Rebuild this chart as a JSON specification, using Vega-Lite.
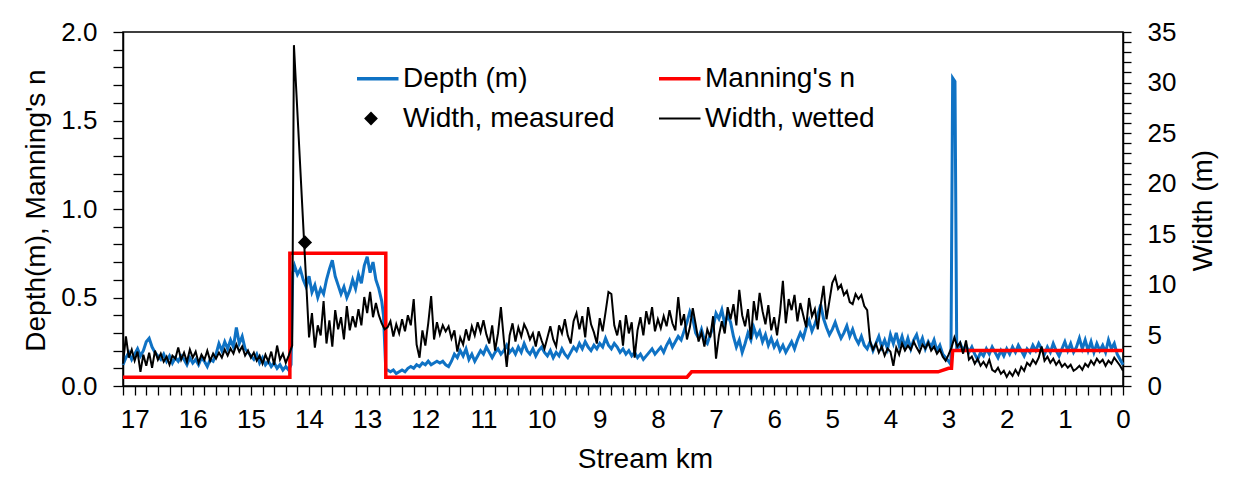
{
  "$schema": "https://vega.github.io/schema/vega-lite/v6.json",
  "width": 1000,
  "height": 354,
  "autosize": {"type": "none"},
  "padding": {"left": 123, "top": 32, "right": 130, "bottom": 109},
  "background": "white",
  "datasets": {
    "depth": [
      {"km":17.2,"m":0.12},{"km":17.15,"m":0.16},{"km":17.1,"m":0.19},{"km":17.05,"m":0.15},{"km":17.0,"m":0.18},
      {"km":16.95,"m":0.21},{"km":16.9,"m":0.17},{"km":16.85,"m":0.2},{"km":16.8,"m":0.25},{"km":16.75,"m":0.27},
      {"km":16.7,"m":0.22},{"km":16.65,"m":0.19},{"km":16.6,"m":0.17},{"km":16.55,"m":0.15},{"km":16.5,"m":0.18},
      {"km":16.45,"m":0.14},{"km":16.4,"m":0.17},{"km":16.35,"m":0.13},{"km":16.3,"m":0.16},{"km":16.25,"m":0.14},
      {"km":16.2,"m":0.17},{"km":16.15,"m":0.15},{"km":16.1,"m":0.12},{"km":16.05,"m":0.16},{"km":16.0,"m":0.13},
      {"km":15.95,"m":0.15},{"km":15.9,"m":0.12},{"km":15.85,"m":0.16},{"km":15.8,"m":0.14},{"km":15.75,"m":0.11},
      {"km":15.7,"m":0.15},{"km":15.65,"m":0.14},{"km":15.6,"m":0.18},{"km":15.55,"m":0.24},{"km":15.5,"m":0.2},
      {"km":15.45,"m":0.25},{"km":15.4,"m":0.21},{"km":15.35,"m":0.26},{"km":15.3,"m":0.22},{"km":15.25,"m":0.33},
      {"km":15.2,"m":0.24},{"km":15.15,"m":0.28},{"km":15.1,"m":0.21},{"km":15.05,"m":0.19},{"km":15.0,"m":0.17},
      {"km":14.95,"m":0.15},{"km":14.9,"m":0.18},{"km":14.85,"m":0.13},{"km":14.8,"m":0.16},{"km":14.75,"m":0.12},
      {"km":14.7,"m":0.14},{"km":14.65,"m":0.11},{"km":14.6,"m":0.13},{"km":14.55,"m":0.1},{"km":14.5,"m":0.12},
      {"km":14.45,"m":0.09},{"km":14.4,"m":0.11},{"km":14.35,"m":0.09},{"km":14.31,"m":0.12},{"km":14.28,"m":0.64},
      {"km":14.25,"m":0.68},{"km":14.2,"m":0.63},{"km":14.15,"m":0.66},{"km":14.1,"m":0.6},{"km":14.05,"m":0.56},
      {"km":14.0,"m":0.62},{"km":13.95,"m":0.53},{"km":13.9,"m":0.57},{"km":13.85,"m":0.5},{"km":13.8,"m":0.55},
      {"km":13.75,"m":0.52},{"km":13.7,"m":0.6},{"km":13.65,"m":0.66},{"km":13.6,"m":0.71},{"km":13.55,"m":0.62},
      {"km":13.5,"m":0.57},{"km":13.45,"m":0.52},{"km":13.4,"m":0.56},{"km":13.35,"m":0.5},{"km":13.3,"m":0.54},
      {"km":13.25,"m":0.6},{"km":13.2,"m":0.55},{"km":13.15,"m":0.63},{"km":13.1,"m":0.58},{"km":13.05,"m":0.68},
      {"km":13.0,"m":0.73},{"km":12.95,"m":0.64},{"km":12.9,"m":0.7},{"km":12.85,"m":0.6},{"km":12.8,"m":0.55},
      {"km":12.75,"m":0.48},{"km":12.72,"m":0.4},{"km":12.68,"m":0.09},{"km":12.65,"m":0.09},{"km":12.6,"m":0.08},
      {"km":12.55,"m":0.09},{"km":12.5,"m":0.07},{"km":12.45,"m":0.08},{"km":12.4,"m":0.09},{"km":12.35,"m":0.08},
      {"km":12.3,"m":0.1},{"km":12.25,"m":0.11},{"km":12.2,"m":0.1},{"km":12.15,"m":0.12},{"km":12.1,"m":0.11},
      {"km":12.05,"m":0.13},{"km":12.0,"m":0.12},{"km":11.95,"m":0.14},{"km":11.9,"m":0.12},{"km":11.85,"m":0.13},
      {"km":11.8,"m":0.14},{"km":11.75,"m":0.13},{"km":11.7,"m":0.14},{"km":11.65,"m":0.12},{"km":11.6,"m":0.11},
      {"km":11.55,"m":0.14},{"km":11.5,"m":0.18},{"km":11.45,"m":0.16},{"km":11.4,"m":0.2},{"km":11.35,"m":0.17},
      {"km":11.3,"m":0.21},{"km":11.25,"m":0.15},{"km":11.2,"m":0.18},{"km":11.15,"m":0.14},{"km":11.1,"m":0.17},
      {"km":11.05,"m":0.2},{"km":11.0,"m":0.18},{"km":10.95,"m":0.22},{"km":10.9,"m":0.19},{"km":10.85,"m":0.16},
      {"km":10.8,"m":0.19},{"km":10.75,"m":0.21},{"km":10.7,"m":0.18},{"km":10.65,"m":0.2},{"km":10.6,"m":0.23},
      {"km":10.55,"m":0.19},{"km":10.5,"m":0.21},{"km":10.45,"m":0.18},{"km":10.4,"m":0.22},{"km":10.35,"m":0.19},
      {"km":10.3,"m":0.24},{"km":10.25,"m":0.2},{"km":10.2,"m":0.18},{"km":10.15,"m":0.21},{"km":10.1,"m":0.17},
      {"km":10.05,"m":0.2},{"km":10.0,"m":0.22},{"km":9.95,"m":0.19},{"km":9.9,"m":0.17},{"km":9.85,"m":0.2},
      {"km":9.8,"m":0.16},{"km":9.75,"m":0.19},{"km":9.7,"m":0.17},{"km":9.65,"m":0.21},{"km":9.6,"m":0.18},
      {"km":9.55,"m":0.16},{"km":9.5,"m":0.19},{"km":9.45,"m":0.22},{"km":9.4,"m":0.2},{"km":9.35,"m":0.24},
      {"km":9.3,"m":0.21},{"km":9.25,"m":0.25},{"km":9.2,"m":0.22},{"km":9.15,"m":0.2},{"km":9.1,"m":0.23},
      {"km":9.05,"m":0.21},{"km":9.0,"m":0.24},{"km":8.95,"m":0.22},{"km":8.9,"m":0.27},{"km":8.85,"m":0.23},
      {"km":8.8,"m":0.21},{"km":8.75,"m":0.24},{"km":8.7,"m":0.22},{"km":8.65,"m":0.19},{"km":8.6,"m":0.21},
      {"km":8.55,"m":0.18},{"km":8.5,"m":0.2},{"km":8.45,"m":0.17},{"km":8.4,"m":0.19},{"km":8.35,"m":0.16},
      {"km":8.3,"m":0.18},{"km":8.25,"m":0.15},{"km":8.2,"m":0.17},{"km":8.15,"m":0.19},{"km":8.1,"m":0.21},
      {"km":8.05,"m":0.18},{"km":8.0,"m":0.2},{"km":7.95,"m":0.22},{"km":7.9,"m":0.19},{"km":7.85,"m":0.23},
      {"km":7.8,"m":0.26},{"km":7.75,"m":0.22},{"km":7.7,"m":0.25},{"km":7.65,"m":0.28},{"km":7.6,"m":0.26},
      {"km":7.55,"m":0.31},{"km":7.5,"m":0.36},{"km":7.45,"m":0.42},{"km":7.4,"m":0.38},{"km":7.35,"m":0.3},
      {"km":7.3,"m":0.27},{"km":7.25,"m":0.32},{"km":7.2,"m":0.26},{"km":7.15,"m":0.24},{"km":7.1,"m":0.29},
      {"km":7.05,"m":0.33},{"km":7.0,"m":0.41},{"km":6.95,"m":0.38},{"km":6.9,"m":0.43},{"km":6.85,"m":0.35},
      {"km":6.8,"m":0.4},{"km":6.75,"m":0.36},{"km":6.7,"m":0.28},{"km":6.65,"m":0.22},{"km":6.6,"m":0.26},
      {"km":6.55,"m":0.19},{"km":6.5,"m":0.24},{"km":6.45,"m":0.3},{"km":6.4,"m":0.26},{"km":6.35,"m":0.33},
      {"km":6.3,"m":0.28},{"km":6.25,"m":0.31},{"km":6.2,"m":0.25},{"km":6.15,"m":0.29},{"km":6.1,"m":0.23},
      {"km":6.05,"m":0.27},{"km":6.0,"m":0.22},{"km":5.95,"m":0.25},{"km":5.9,"m":0.2},{"km":5.85,"m":0.23},
      {"km":5.8,"m":0.19},{"km":5.75,"m":0.22},{"km":5.7,"m":0.25},{"km":5.65,"m":0.21},{"km":5.6,"m":0.26},
      {"km":5.55,"m":0.3},{"km":5.5,"m":0.27},{"km":5.45,"m":0.33},{"km":5.4,"m":0.37},{"km":5.35,"m":0.31},
      {"km":5.3,"m":0.35},{"km":5.25,"m":0.4},{"km":5.2,"m":0.46},{"km":5.15,"m":0.38},{"km":5.1,"m":0.33},
      {"km":5.05,"m":0.29},{"km":5.0,"m":0.32},{"km":4.95,"m":0.36},{"km":4.9,"m":0.31},{"km":4.85,"m":0.27},
      {"km":4.8,"m":0.3},{"km":4.75,"m":0.34},{"km":4.7,"m":0.28},{"km":4.65,"m":0.32},{"km":4.6,"m":0.27},
      {"km":4.55,"m":0.24},{"km":4.5,"m":0.28},{"km":4.45,"m":0.23},{"km":4.4,"m":0.21},{"km":4.35,"m":0.25},
      {"km":4.3,"m":0.2},{"km":4.25,"m":0.24},{"km":4.2,"m":0.28},{"km":4.15,"m":0.22},{"km":4.1,"m":0.26},
      {"km":4.05,"m":0.21},{"km":4.0,"m":0.29},{"km":3.95,"m":0.24},{"km":3.9,"m":0.3},{"km":3.85,"m":0.23},
      {"km":3.8,"m":0.28},{"km":3.75,"m":0.22},{"km":3.7,"m":0.27},{"km":3.65,"m":0.21},{"km":3.6,"m":0.26},
      {"km":3.55,"m":0.29},{"km":3.5,"m":0.23},{"km":3.45,"m":0.27},{"km":3.4,"m":0.21},{"km":3.35,"m":0.25},
      {"km":3.3,"m":0.22},{"km":3.25,"m":0.26},{"km":3.2,"m":0.2},{"km":3.15,"m":0.23},{"km":3.1,"m":0.18},
      {"km":3.05,"m":0.16},{"km":3.0,"m":0.14},{"km":2.96,"m":0.12},{"km":2.93,"m":1.74},{"km":2.89,"m":1.72},
      {"km":2.86,"m":0.2},{"km":2.8,"m":0.24},{"km":2.75,"m":0.2},{"km":2.7,"m":0.23},{"km":2.65,"m":0.19},
      {"km":2.6,"m":0.22},{"km":2.55,"m":0.18},{"km":2.5,"m":0.15},{"km":2.45,"m":0.19},{"km":2.4,"m":0.17},
      {"km":2.35,"m":0.21},{"km":2.3,"m":0.18},{"km":2.25,"m":0.22},{"km":2.2,"m":0.19},{"km":2.15,"m":0.16},
      {"km":2.1,"m":0.2},{"km":2.05,"m":0.17},{"km":2.0,"m":0.21},{"km":1.95,"m":0.18},{"km":1.9,"m":0.22},
      {"km":1.85,"m":0.19},{"km":1.8,"m":0.23},{"km":1.75,"m":0.2},{"km":1.7,"m":0.17},{"km":1.65,"m":0.21},
      {"km":1.6,"m":0.19},{"km":1.55,"m":0.23},{"km":1.5,"m":0.2},{"km":1.45,"m":0.24},{"km":1.4,"m":0.21},
      {"km":1.35,"m":0.18},{"km":1.3,"m":0.22},{"km":1.25,"m":0.19},{"km":1.2,"m":0.24},{"km":1.15,"m":0.2},
      {"km":1.1,"m":0.17},{"km":1.05,"m":0.21},{"km":1.0,"m":0.25},{"km":0.95,"m":0.2},{"km":0.9,"m":0.24},
      {"km":0.85,"m":0.19},{"km":0.8,"m":0.22},{"km":0.75,"m":0.27},{"km":0.7,"m":0.21},{"km":0.65,"m":0.26},
      {"km":0.6,"m":0.2},{"km":0.55,"m":0.25},{"km":0.5,"m":0.19},{"km":0.45,"m":0.24},{"km":0.4,"m":0.2},
      {"km":0.35,"m":0.23},{"km":0.3,"m":0.19},{"km":0.25,"m":0.26},{"km":0.2,"m":0.21},{"km":0.15,"m":0.24},
      {"km":0.1,"m":0.18},{"km":0.05,"m":0.15},{"km":0.0,"m":0.12}
    ],
    "width": [
      {"km":17.2,"w":2.2},{"km":17.15,"w":4.9},{"km":17.1,"w":2.8},{"km":17.05,"w":3.6},{"km":17.0,"w":2.5},
      {"km":16.95,"w":3.4},{"km":16.9,"w":1.4},{"km":16.85,"w":3.1},{"km":16.8,"w":2.0},{"km":16.75,"w":3.3},
      {"km":16.7,"w":1.8},{"km":16.65,"w":3.5},{"km":16.6,"w":2.6},{"km":16.55,"w":3.2},{"km":16.5,"w":2.4},
      {"km":16.45,"w":2.9},{"km":16.4,"w":2.1},{"km":16.35,"w":3.0},{"km":16.3,"w":2.7},{"km":16.25,"w":3.8},
      {"km":16.2,"w":2.6},{"km":16.15,"w":3.3},{"km":16.1,"w":2.4},{"km":16.05,"w":3.6},{"km":16.0,"w":2.8},
      {"km":15.95,"w":3.4},{"km":15.9,"w":2.3},{"km":15.85,"w":3.1},{"km":15.8,"w":2.6},{"km":15.75,"w":3.5},
      {"km":15.7,"w":2.5},{"km":15.65,"w":3.2},{"km":15.6,"w":2.7},{"km":15.55,"w":3.3},{"km":15.5,"w":2.8},
      {"km":15.45,"w":3.6},{"km":15.4,"w":3.0},{"km":15.35,"w":3.7},{"km":15.3,"w":3.2},{"km":15.25,"w":4.1},
      {"km":15.2,"w":3.4},{"km":15.15,"w":3.9},{"km":15.1,"w":3.0},{"km":15.05,"w":3.5},{"km":15.0,"w":2.8},
      {"km":14.95,"w":3.3},{"km":14.9,"w":2.5},{"km":14.85,"w":3.0},{"km":14.8,"w":2.2},{"km":14.75,"w":3.1},
      {"km":14.7,"w":2.4},{"km":14.65,"w":3.4},{"km":14.6,"w":2.1},{"km":14.55,"w":4.0},{"km":14.5,"w":2.6},
      {"km":14.45,"w":3.2},{"km":14.4,"w":2.3},{"km":14.35,"w":3.0},{"km":14.29,"w":4.0},{"km":14.26,"w":33.7},
      {"km":14.0,"w":4.8},{"km":13.95,"w":7.2},{"km":13.9,"w":3.8},{"km":13.85,"w":6.0},{"km":13.8,"w":5.0},
      {"km":13.75,"w":8.4},{"km":13.7,"w":4.2},{"km":13.65,"w":6.5},{"km":13.6,"w":3.9},{"km":13.55,"w":7.5},
      {"km":13.5,"w":5.6},{"km":13.45,"w":6.8},{"km":13.4,"w":4.6},{"km":13.35,"w":7.9},{"km":13.3,"w":5.5},
      {"km":13.25,"w":6.9},{"km":13.2,"w":5.8},{"km":13.15,"w":7.6},{"km":13.1,"w":6.0},{"km":13.05,"w":8.8},
      {"km":13.0,"w":7.2},{"km":12.95,"w":9.3},{"km":12.9,"w":6.8},{"km":12.85,"w":8.2},{"km":12.8,"w":7.0},
      {"km":12.75,"w":6.2},{"km":12.7,"w":5.6},{"km":12.65,"w":5.8},{"km":12.6,"w":6.4},{"km":12.55,"w":4.9},
      {"km":12.5,"w":6.1},{"km":12.45,"w":5.2},{"km":12.4,"w":6.6},{"km":12.35,"w":5.4},{"km":12.3,"w":7.0},
      {"km":12.25,"w":6.0},{"km":12.2,"w":8.6},{"km":12.15,"w":4.1},{"km":12.1,"w":2.8},{"km":12.05,"w":5.5},
      {"km":12.0,"w":4.0},{"km":11.95,"w":6.2},{"km":11.9,"w":8.9},{"km":11.85,"w":4.6},{"km":11.8,"w":6.3},
      {"km":11.75,"w":5.1},{"km":11.7,"w":6.0},{"km":11.65,"w":5.4},{"km":11.6,"w":5.9},{"km":11.55,"w":4.7},
      {"km":11.5,"w":5.5},{"km":11.45,"w":3.4},{"km":11.4,"w":4.8},{"km":11.35,"w":4.1},{"km":11.3,"w":5.6},
      {"km":11.25,"w":4.5},{"km":11.2,"w":5.9},{"km":11.15,"w":5.0},{"km":11.1,"w":6.3},{"km":11.05,"w":5.3},
      {"km":11.0,"w":6.5},{"km":10.95,"w":5.1},{"km":10.9,"w":4.2},{"km":10.85,"w":6.0},{"km":10.8,"w":3.5},
      {"km":10.75,"w":5.2},{"km":10.7,"w":7.8},{"km":10.65,"w":4.6},{"km":10.6,"w":1.9},{"km":10.55,"w":5.0},
      {"km":10.5,"w":6.2},{"km":10.45,"w":4.4},{"km":10.4,"w":5.8},{"km":10.35,"w":4.9},{"km":10.3,"w":6.1},
      {"km":10.25,"w":5.5},{"km":10.2,"w":4.6},{"km":10.15,"w":5.2},{"km":10.1,"w":3.9},{"km":10.05,"w":5.4},
      {"km":10.0,"w":4.5},{"km":9.95,"w":3.7},{"km":9.9,"w":4.8},{"km":9.85,"w":5.9},{"km":9.8,"w":4.6},
      {"km":9.75,"w":3.9},{"km":9.7,"w":6.0},{"km":9.65,"w":5.2},{"km":9.6,"w":6.6},{"km":9.55,"w":5.0},
      {"km":9.5,"w":4.2},{"km":9.45,"w":6.4},{"km":9.4,"w":7.2},{"km":9.35,"w":5.6},{"km":9.3,"w":6.9},
      {"km":9.25,"w":4.8},{"km":9.2,"w":7.8},{"km":9.15,"w":6.1},{"km":9.1,"w":5.3},{"km":9.05,"w":4.2},
      {"km":9.0,"w":6.7},{"km":8.95,"w":5.4},{"km":8.9,"w":7.3},{"km":8.85,"w":9.3},{"km":8.8,"w":9.1},
      {"km":8.75,"w":6.0},{"km":8.7,"w":5.0},{"km":8.65,"w":6.5},{"km":8.6,"w":4.0},{"km":8.55,"w":7.0},
      {"km":8.5,"w":5.2},{"km":8.45,"w":6.3},{"km":8.4,"w":2.8},{"km":8.35,"w":5.5},{"km":8.3,"w":6.8},
      {"km":8.25,"w":5.0},{"km":8.2,"w":7.4},{"km":8.15,"w":6.1},{"km":8.1,"w":7.8},{"km":8.05,"w":5.4},
      {"km":8.0,"w":6.6},{"km":7.95,"w":5.7},{"km":7.9,"w":6.9},{"km":7.85,"w":5.9},{"km":7.8,"w":7.5},
      {"km":7.75,"w":6.2},{"km":7.7,"w":5.5},{"km":7.65,"w":8.8},{"km":7.6,"w":6.0},{"km":7.55,"w":7.1},
      {"km":7.5,"w":4.6},{"km":7.45,"w":5.8},{"km":7.4,"w":7.7},{"km":7.35,"w":6.1},{"km":7.3,"w":4.4},
      {"km":7.25,"w":5.3},{"km":7.2,"w":3.9},{"km":7.15,"w":5.6},{"km":7.1,"w":4.8},{"km":7.05,"w":6.9},
      {"km":7.0,"w":2.7},{"km":6.95,"w":5.0},{"km":6.9,"w":6.4},{"km":6.85,"w":5.2},{"km":6.8,"w":7.8},
      {"km":6.75,"w":6.6},{"km":6.7,"w":8.1},{"km":6.65,"w":6.0},{"km":6.6,"w":9.5},{"km":6.55,"w":7.0},
      {"km":6.5,"w":5.9},{"km":6.45,"w":7.6},{"km":6.4,"w":4.6},{"km":6.35,"w":8.4},{"km":6.3,"w":6.5},
      {"km":6.25,"w":9.2},{"km":6.2,"w":7.4},{"km":6.15,"w":6.1},{"km":6.1,"w":8.0},{"km":6.05,"w":5.5},
      {"km":6.0,"w":6.8},{"km":5.95,"w":5.0},{"km":5.9,"w":7.2},{"km":5.85,"w":10.4},{"km":5.8,"w":6.2},
      {"km":5.75,"w":8.6},{"km":5.7,"w":7.5},{"km":5.65,"w":9.0},{"km":5.6,"w":6.4},{"km":5.55,"w":8.2},
      {"km":5.5,"w":7.0},{"km":5.45,"w":5.8},{"km":5.4,"w":8.7},{"km":5.35,"w":6.9},{"km":5.3,"w":7.6},
      {"km":5.25,"w":5.6},{"km":5.2,"w":8.0},{"km":5.15,"w":9.9},{"km":5.1,"w":6.6},{"km":5.05,"w":8.4},
      {"km":5.0,"w":10.2},{"km":4.95,"w":10.8},{"km":4.9,"w":9.6},{"km":4.85,"w":10.0},{"km":4.8,"w":9.0},
      {"km":4.75,"w":9.4},{"km":4.7,"w":8.3},{"km":4.65,"w":8.1},{"km":4.6,"w":9.1},{"km":4.55,"w":8.6},
      {"km":4.5,"w":9.0},{"km":4.45,"w":7.9},{"km":4.4,"w":7.5},{"km":4.35,"w":4.4},{"km":4.3,"w":3.6},
      {"km":4.25,"w":4.2},{"km":4.2,"w":3.3},{"km":4.15,"w":3.9},{"km":4.1,"w":3.0},{"km":4.05,"w":3.7},
      {"km":4.0,"w":3.4},{"km":3.95,"w":2.0},{"km":3.9,"w":3.8},{"km":3.85,"w":3.1},{"km":3.8,"w":4.2},
      {"km":3.75,"w":3.5},{"km":3.7,"w":4.0},{"km":3.65,"w":3.6},{"km":3.6,"w":4.4},{"km":3.55,"w":3.8},
      {"km":3.5,"w":3.3},{"km":3.45,"w":4.1},{"km":3.4,"w":3.7},{"km":3.35,"w":4.3},{"km":3.3,"w":3.5},
      {"km":3.25,"w":3.9},{"km":3.2,"w":3.2},{"km":3.15,"w":3.6},{"km":3.1,"w":2.9},{"km":3.05,"w":2.5},
      {"km":3.0,"w":3.1},{"km":2.95,"w":3.8},{"km":2.9,"w":4.8},{"km":2.85,"w":3.9},{"km":2.8,"w":4.3},
      {"km":2.75,"w":3.2},{"km":2.7,"w":4.5},{"km":2.65,"w":2.6},{"km":2.6,"w":2.9},{"km":2.55,"w":2.2},
      {"km":2.5,"w":2.7},{"km":2.45,"w":2.0},{"km":2.4,"w":2.4},{"km":2.35,"w":1.9},{"km":2.3,"w":2.6},
      {"km":2.25,"w":1.6},{"km":2.2,"w":1.4},{"km":2.15,"w":1.8},{"km":2.1,"w":1.2},{"km":2.05,"w":1.5},
      {"km":2.0,"w":0.9},{"km":1.95,"w":1.4},{"km":1.9,"w":1.0},{"km":1.85,"w":1.6},{"km":1.8,"w":1.1},
      {"km":1.75,"w":1.9},{"km":1.7,"w":1.5},{"km":1.65,"w":2.3},{"km":1.6,"w":2.0},{"km":1.55,"w":2.6},
      {"km":1.5,"w":2.2},{"km":1.45,"w":2.8},{"km":1.4,"w":3.9},{"km":1.35,"w":2.5},{"km":1.3,"w":2.9},
      {"km":1.25,"w":2.3},{"km":1.2,"w":2.7},{"km":1.15,"w":2.1},{"km":1.1,"w":2.5},{"km":1.05,"w":1.9},
      {"km":1.0,"w":2.2},{"km":0.95,"w":1.8},{"km":0.9,"w":2.1},{"km":0.85,"w":1.5},{"km":0.8,"w":1.7},
      {"km":0.75,"w":2.0},{"km":0.7,"w":1.6},{"km":0.65,"w":2.2},{"km":0.6,"w":1.9},{"km":0.55,"w":2.5},
      {"km":0.5,"w":2.1},{"km":0.45,"w":2.7},{"km":0.4,"w":2.3},{"km":0.35,"w":2.6},{"km":0.3,"w":2.0},
      {"km":0.25,"w":2.5},{"km":0.2,"w":2.2},{"km":0.15,"w":2.8},{"km":0.1,"w":2.4},{"km":0.05,"w":2.0},
      {"km":0.0,"w":1.5}
    ],
    "manning": [
      {"i":1,"km":17.2,"n":0.05},{"i":2,"km":14.33,"n":0.05},{"i":3,"km":14.33,"n":0.75},
      {"i":4,"km":12.68,"n":0.75},{"i":5,"km":12.68,"n":0.05},{"i":6,"km":7.5,"n":0.05},
      {"i":7,"km":7.42,"n":0.08},{"i":8,"km":3.18,"n":0.08},{"i":9,"km":3.0,"n":0.1},
      {"i":10,"km":2.95,"n":0.1},{"i":11,"km":2.93,"n":0.2},{"i":12,"km":0.0,"n":0.2}
    ],
    "measured": [
      {"km":14.07,"w":14.2}
    ]
  },
  "layer": [
    {
      "layer": [
        {
          "data": {"name": "depth"},
          "mark": {"type": "line", "strokeWidth": 3, "interpolate": "linear"},
          "encoding": {
            "x": {
              "field": "km", "type": "quantitative",
              "scale": {"domain": [0, 17.2], "reverse": true, "nice": false, "zero": false},
              "axis": {
                "title": "Stream km",
                "values": [0,0.2,0.4,0.6,0.8,1,1.2,1.4,1.6,1.8,2,2.2,2.4,2.6,2.8,3,3.2,3.4,3.6,3.8,4,4.2,4.4,4.6,4.8,5,5.2,5.4,5.6,5.8,6,6.2,6.4,6.6,6.8,7,7.2,7.4,7.6,7.8,8,8.2,8.4,8.6,8.8,9,9.2,9.4,9.6,9.8,10,10.2,10.4,10.6,10.8,11,11.2,11.4,11.6,11.8,12,12.2,12.4,12.6,12.8,13,13.2,13.4,13.6,13.8,14,14.2,14.4,14.6,14.8,15,15.2,15.4,15.6,15.8,16,16.2,16.4,16.6,16.8,17,17.2],
                "tickCount": 200,
                "labelExpr": "abs(datum.value - round(datum.value)) < 0.001 ? format(datum.value, 'd') : ''",
                "labelOverlap": false,
                "labelFlush": false,
                "labelBound": false,
                "tickSize": 9,
                "labelPadding": 11,
                "titleX": 522,
                "titleY": 73,
                "titleAlign": "center",
                "titleBaseline": "middle",
                "encode": {
                  "ticks": {
                    "update": {
                      "y": {"signal": "abs(datum.value - round(datum.value)) < 0.001 ? -9 : 0"},
                      "y2": {"signal": "abs(datum.value - round(datum.value)) < 0.001 ? 9 : 7"}
                    }
                  }
                }
              }
            },
            "y": {
              "field": "m", "type": "quantitative",
              "scale": {"domain": [0, 2], "nice": false},
              "axis": {
                "orient": "left",
                "title": "Depth(m), Manning's n",
                "values": [0,0.1,0.2,0.3,0.4,0.5,0.6,0.7,0.8,0.9,1,1.1,1.2,1.3,1.4,1.5,1.6,1.7,1.8,1.9,2],
                "tickCount": 100,
                "labelExpr": "abs(datum.value * 2 - round(datum.value * 2)) < 0.001 ? format(datum.value, '.1f') : ''",
                "labelOverlap": false,
                "labelFlush": false,
                "labelBound": false,
                "tickSize": 10,
                "labelPadding": 16,
                "titleX": -87,
                "titleY": 178,
                "titleAngle": 270,
                "titleAlign": "center",
                "titleBaseline": "middle",
                "encode": {
                  "ticks": {
                    "update": {
                      "x": {"signal": "abs(datum.value * 2 - round(datum.value * 2)) < 0.001 ? 9 : 0"},
                      "x2": {"signal": "abs(datum.value * 2 - round(datum.value * 2)) < 0.001 ? -10 : -5"}
                    }
                  }
                }
              }
            },
            "color": {
              "datum": "Depth (m)", "type": "nominal",
              "scale": {
                "domain": ["Depth (m)", "Width, measured", "Manning's n", "Width, wetted"],
                "range": ["#0F72C4", "#000000", "#FF0000", "#000000"]
              },
              "legend": {
                "title": null,
                "orient": "none",
                "legendX": 234,
                "legendY": 33,
                "columns": 2,
                "columnPadding": 44,
                "rowPadding": 11,
                "padding": 0,
                "clipHeight": 27,
                "symbolOffset": 0,
                "symbolStrokeWidth": 3,
                "labelOffset": 18,
                "labelLimit": 400,
                "labelFont": "Liberation Sans",
                "labelFontSize": 28,
                "labelColor": "#000000",
                "encode": {
                  "symbols": {
                    "update": {
                      "shape": {"signal": "datum.value === 'Width, measured' ? 'diamond' : 'stroke'"},
                      "size": {"signal": "datum.value === 'Width, measured' ? 190 : 3025"},
                      "fill": {"signal": "datum.value === 'Width, measured' ? '#000000' : 'transparent'"},
                      "stroke": {"scale": "color", "field": "value"},
                      "strokeWidth": {"signal": "datum.value === 'Width, measured' ? 0 : (datum.value === 'Width, wetted' ? 2.2 : 3.5)"},
                      "opacity": {"value": 1}
                    }
                  }
                }
              }
            }
          }
        },
        {
          "data": {"name": "manning"},
          "mark": {"type": "line", "strokeWidth": 3.5, "interpolate": "linear"},
          "encoding": {
            "x": {"field": "km", "type": "quantitative"},
            "y": {"field": "n", "type": "quantitative"},
            "order": {"field": "i", "type": "quantitative"},
            "color": {"datum": "Manning's n", "type": "nominal"}
          }
        }
      ]
    },
    {
      "layer": [
        {
          "data": {"name": "width"},
          "mark": {"type": "line", "strokeWidth": 2, "interpolate": "linear"},
          "encoding": {
            "x": {"field": "km", "type": "quantitative"},
            "y": {
              "field": "w", "type": "quantitative",
              "scale": {"domain": [0, 35], "nice": false},
              "axis": {
                "orient": "right",
                "title": "Width (m)",
                "values": [0,1,2,3,4,5,6,7,8,9,10,11,12,13,14,15,16,17,18,19,20,21,22,23,24,25,26,27,28,29,30,31,32,33,34,35],
                "tickCount": 100,
                "labelExpr": "datum.value % 5 === 0 ? format(datum.value, 'd') : ''",
                "labelOverlap": false,
                "labelFlush": false,
                "labelBound": false,
                "tickSize": 8,
                "labelPadding": 16,
                "titleX": 80,
                "titleY": 178,
                "titleAngle": 270,
                "titleAlign": "center",
                "titleBaseline": "middle",
                "encode": {
                  "ticks": {
                    "update": {
                      "x": {"signal": "datum.value % 5 === 0 ? -8 : 0"},
                      "x2": {"signal": "datum.value % 5 === 0 ? 8 : 5"}
                    }
                  }
                }
              }
            },
            "color": {"datum": "Width, wetted", "type": "nominal"}
          }
        },
        {
          "data": {"name": "measured"},
          "mark": {"type": "point", "shape": "diamond", "filled": true, "size": 200, "opacity": 1},
          "encoding": {
            "x": {"field": "km", "type": "quantitative"},
            "y": {"field": "w", "type": "quantitative"},
            "color": {"datum": "Width, measured", "type": "nominal"}
          }
        }
      ]
    }
  ],
  "resolve": {"scale": {"y": "independent"}},
  "config": {
    "font": "Liberation Sans",
    "view": {"stroke": "#000000", "strokeWidth": 1.5},
    "axis": {
      "domainColor": "#000000",
      "domainWidth": 1.5,
      "tickColor": "#000000",
      "tickWidth": 1.3,
      "grid": false,
      "labelFont": "Liberation Sans",
      "labelFontSize": 26,
      "labelColor": "#000000",
      "titleFont": "Liberation Sans",
      "titleFontSize": 28,
      "titleFontWeight": "normal",
      "titleColor": "#000000"
    }
  }
}
